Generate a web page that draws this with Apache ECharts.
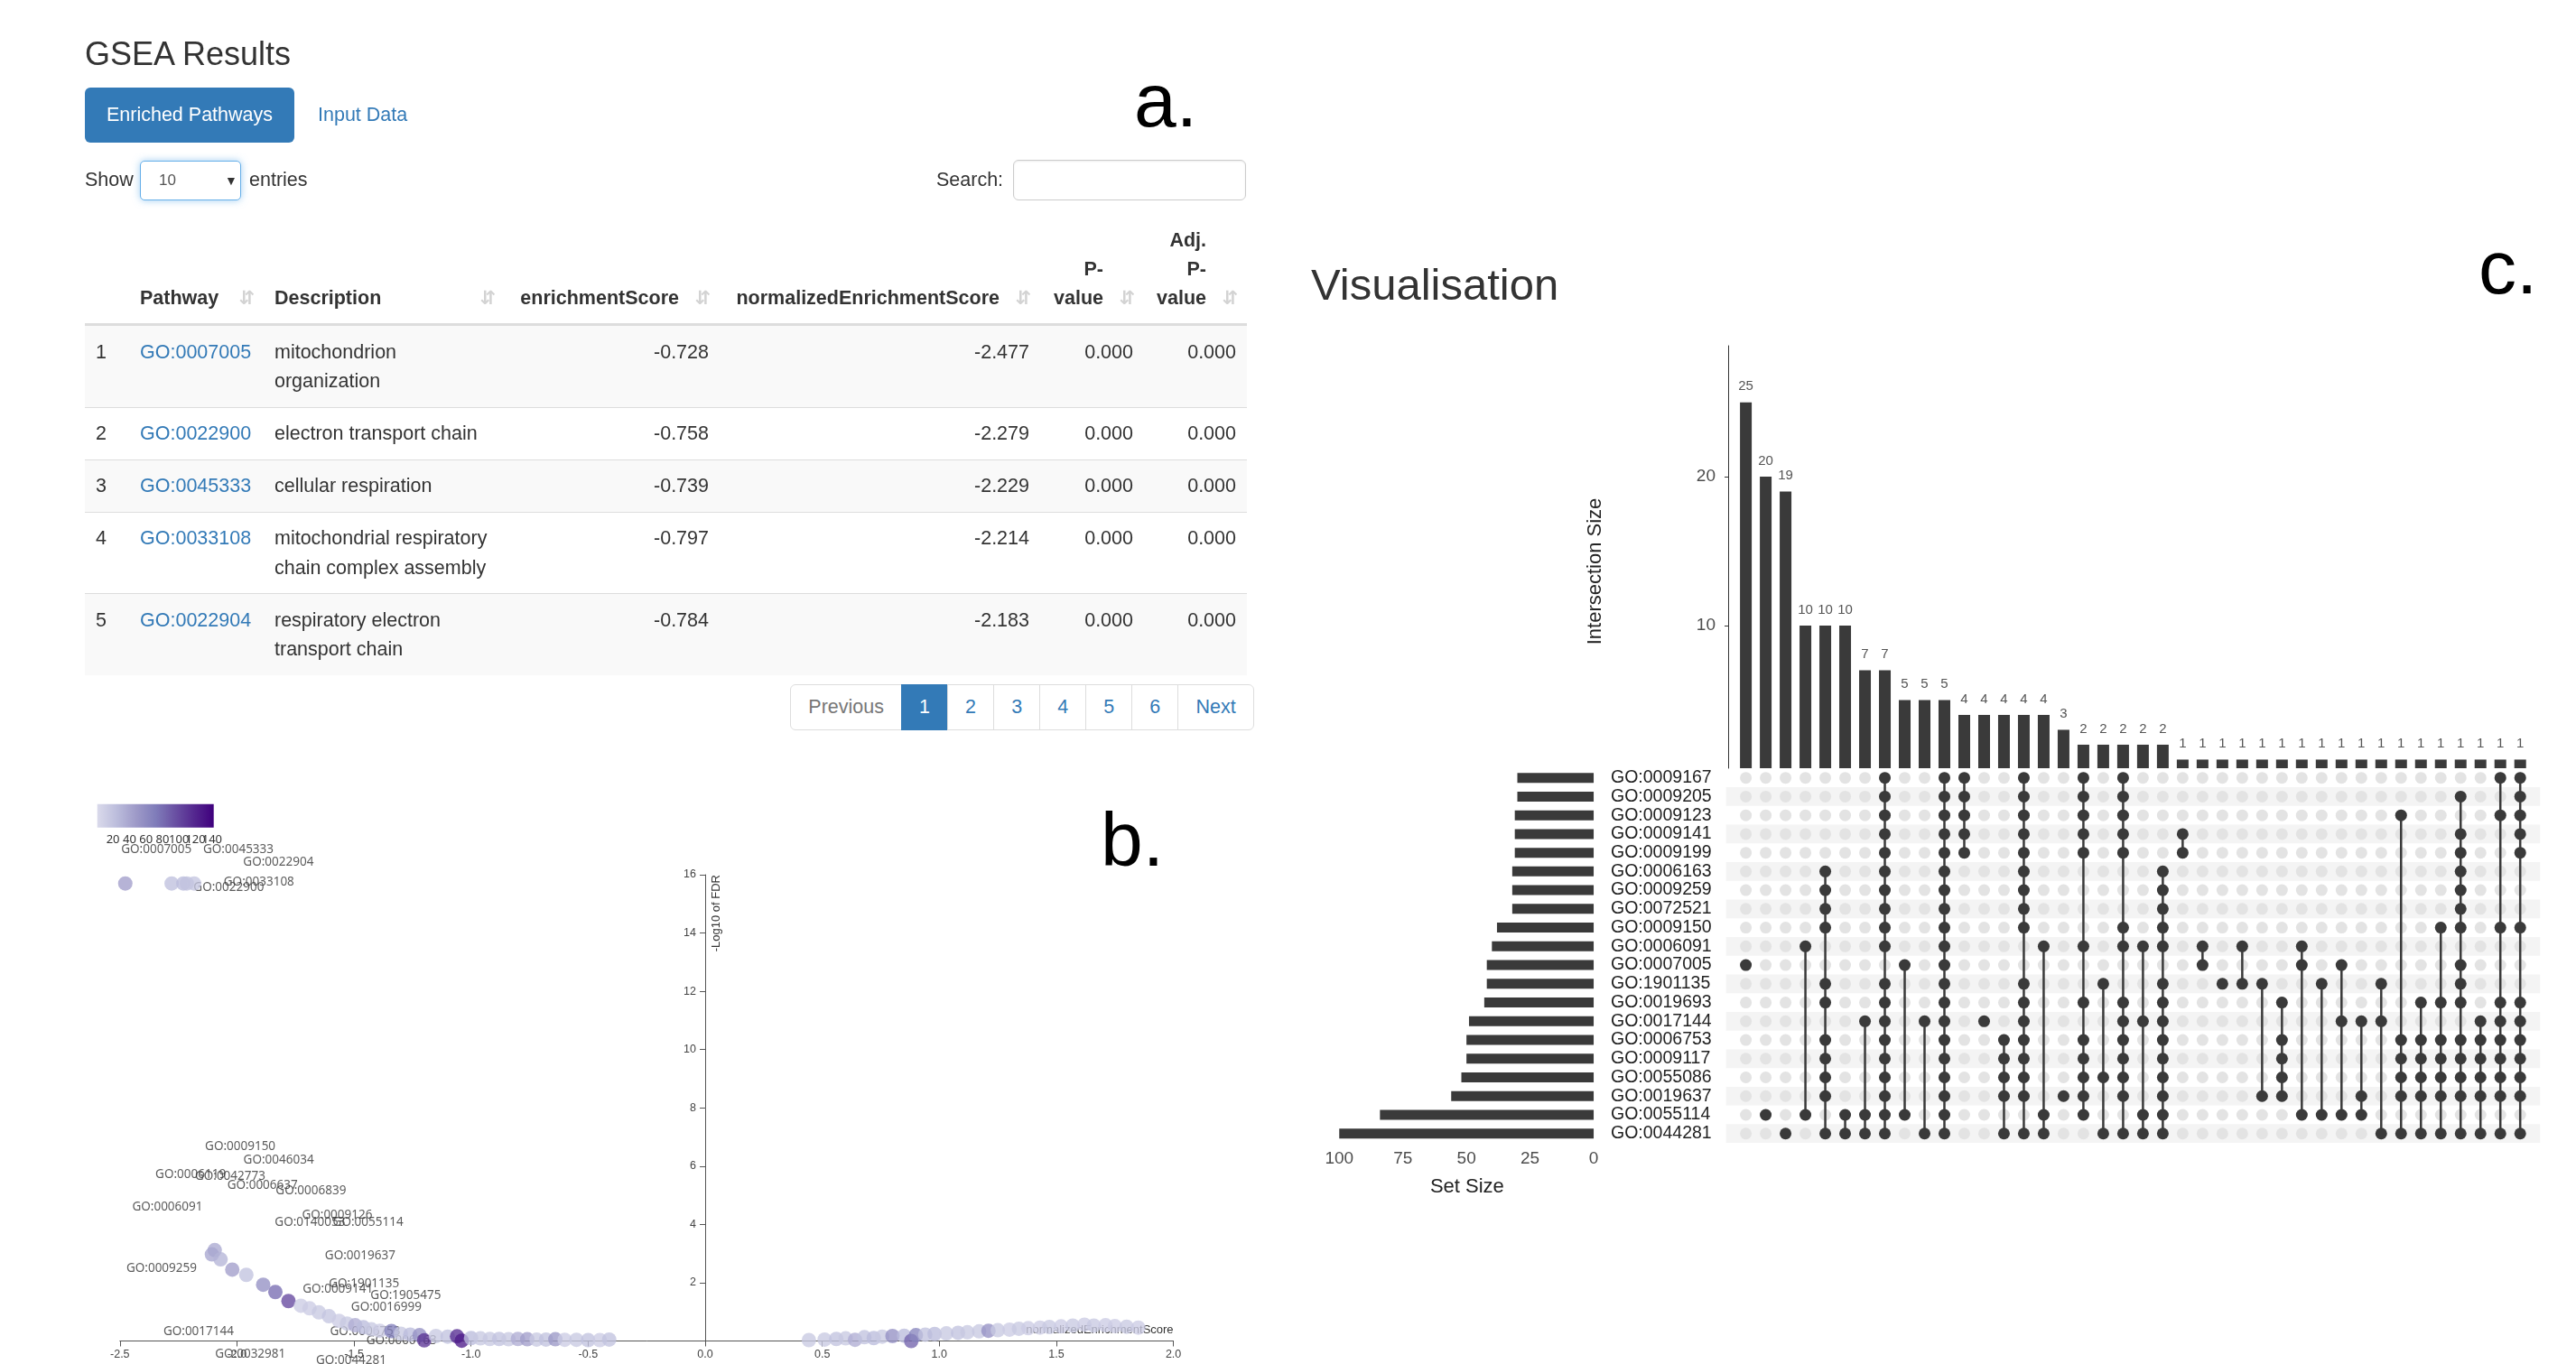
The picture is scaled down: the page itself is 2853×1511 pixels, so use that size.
<!DOCTYPE html>
<html><head><meta charset="utf-8">
<script src="https://cdn.jsdelivr.net/npm/echarts@6/dist/echarts.min.js"></script>
<style>
html,body{margin:0;padding:0;background:#fff;width:2853px;height:1511px;overflow:hidden;font-family:"Liberation Sans",Arial,sans-serif;color:#333}
#chart{position:absolute;left:0;top:0;width:2853px;height:1511px}
.abs{position:absolute;white-space:nowrap}
.t{font-size:21.5px;line-height:31px}
.letter{font-size:84px;line-height:84px;color:#000}
table.dt{position:absolute;left:94px;top:237.5px;width:1287px;border-collapse:collapse;table-layout:fixed;font-size:21.5px;line-height:32.2px;color:#333}
table.dt th{font-weight:bold;vertical-align:bottom;border-bottom:3px solid #ddd;padding:12px 45px 12px 12px;position:relative;text-align:left}
table.dt th.r{text-align:right}
table.dt th.n{padding-right:12px}
table.dt td{vertical-align:top;padding:12.5px 12px;border-top:1.5px solid #ddd}
table.dt tr:first-child td{border-top:none}
table.dt tbody tr:nth-child(odd){background:#f9f9f9}
table.dt td.r{text-align:right}
table.dt a{color:#337ab7;text-decoration:none}
.sort{position:absolute;right:10px;bottom:12px;color:#d3d3d3;font-family:"DejaVu Sans";font-size:21px;line-height:31px}
.pg{position:absolute;left:875px;top:758px;display:flex;font-size:21.5px;line-height:31px}
.pg div{padding:9px 19.3px;border:1.5px solid #ddd;margin-left:-1.5px;color:#337ab7;background:#fff}
.pg div.first{margin-left:0;border-radius:6px 0 0 6px;color:#777}
.pg div.last{border-radius:0 6px 6px 0}
.pg div.act{background:#337ab7;border-color:#337ab7;color:#fff}
</style></head><body>
<div id="chart"></div>

<div class="abs" style="left:94px;top:42px;font-size:36px;line-height:36px;color:#333">GSEA Results</div>
<div class="abs t" style="left:94px;top:97px;width:232px;height:61px;line-height:61px;background:#337ab7;border-radius:6px;color:#fff;text-align:center">Enriched Pathways</div>
<div class="abs t" style="left:352px;top:97px;line-height:61px;color:#337ab7">Input Data</div>
<div class="abs letter" style="left:1256px;top:69px">a.</div>
<div class="abs letter" style="left:1219px;top:888px">b.</div>
<div class="abs letter" style="left:2745px;top:254px">c.</div>
<div class="abs" style="left:1452px;top:291px;font-size:49px;line-height:49px;color:#333">Visualisation</div>

<div class="abs t" style="left:94px;top:184px">Show</div>
<div class="abs" style="left:155px;top:178px;width:110px;height:42px;border:1.5px solid #66afe9;border-radius:5px;box-shadow:0 0 8px rgba(102,175,233,.6);background:#fff">
  <span class="abs" style="left:20px;top:11px;font-size:17px;line-height:20px;color:#555">10</span>
  <span class="abs" style="left:93px;top:11px;font-size:14px;line-height:20px;color:#333">&#9660;</span>
</div>
<div class="abs t" style="left:276px;top:184px">entries</div>
<div class="abs t" style="left:1037px;top:184px">Search:</div>
<div class="abs" style="left:1122px;top:177px;width:256px;height:43px;border:1.5px solid #ccc;border-radius:6px;box-shadow:inset 0 1px 2px rgba(0,0,0,.08)"></div>

<table class="dt" id="tbl">
<colgroup><col style="width:49px"><col style="width:149px"><col style="width:267px"><col style="width:238px"><col style="width:355px"><col style="width:115px"><col style="width:114px"></colgroup>
<thead><tr>
<th class="n"></th>
<th>Pathway<span class="sort">&#8693;</span></th>
<th>Description<span class="sort">&#8693;</span></th>
<th class="r">enrichmentScore<span class="sort">&#8693;</span></th>
<th class="r">normalizedEnrichmentScore<span class="sort">&#8693;</span></th>
<th class="r">P-<br>value<span class="sort">&#8693;</span></th>
<th class="r">Adj.<br>P-<br>value<span class="sort">&#8693;</span></th>
</tr></thead>
<tbody id="tbody"></tbody>
</table>

<div class="pg">
<div class="first">Previous</div><div class="act">1</div><div>2</div><div>3</div><div>4</div><div>5</div><div>6</div><div class="last">Next</div>
</div>

<script>
// ---------- Table data (panel a) ----------
const pathwayIds = ['GO:0007005','GO:0022900','GO:0045333','GO:0033108','GO:0022904'];
const pathwayDescriptions = ['mitochondrion organization','electron transport chain','cellular respiration','mitochondrial respiratory chain complex assembly','respiratory electron transport chain'];
const enrichmentScores = [-0.728,-0.758,-0.739,-0.797,-0.784];
const normalizedEnrichmentScores = [-2.477,-2.279,-2.229,-2.214,-2.183];
const pValues = [0,0,0,0,0];
const adjPValues = [0,0,0,0,0];

// ---------- Volcano data (panel b) ----------
const volcanoNES = [-2.477,-2.279,-2.229,-2.214,-2.183,
 -2.095,-2.107,-2.07,-2.02,-1.96,-1.888,-1.836,-1.78,-1.727,-1.69,-1.65,-1.607,-1.564,-1.53,-1.495,-1.46,-1.426,-1.39,-1.34,-1.30,-1.26,-1.22,-1.20,-1.15,-1.10,-1.06,-1.04,-1.00,-0.96,-0.92,-0.88,-0.84,-0.80,-0.76,-0.72,-0.68,-0.64,-0.60,-0.55,-0.50,-0.45,-0.41,
 0.443,0.51,0.56,0.60,0.64,0.68,0.72,0.756,0.80,0.85,0.88,0.90,0.94,0.98,1.03,1.08,1.12,1.17,1.21,1.25,1.30,1.34,1.38,1.43,1.47,1.52,1.57,1.62,1.66,1.71,1.75,1.80,1.85,1.97];
const volcanoLogFDR = [15.70,15.70,15.70,15.70,15.70,
 3.12,2.97,2.80,2.45,2.27,1.93,1.68,1.37,1.21,1.12,0.98,0.85,0.69,0.60,0.54,0.47,0.40,0.35,0.34,0.25,0.22,0.20,0.02,0.17,0.15,0.16,0.01,0.10,0.09,0.07,0.07,0.06,0.07,0.06,0.05,0.05,0.06,0.04,0.04,0.03,0.03,0.05,
 0.03,0.05,0.07,0.09,0.04,0.13,0.10,0.15,0.17,0.18,0.00,0.20,0.22,0.24,0.26,0.28,0.30,0.33,0.35,0.37,0.39,0.42,0.44,0.46,0.48,0.50,0.53,0.56,0.53,0.54,0.51,0.49,0.46,0.45];
const volcanoSetSize = [45,22,25,20,18,
 38,40,30,45,20,55,80,100,12,12,15,18,12,15,35,25,15,12,70,15,25,55,110,15,20,115,125,25,15,15,20,15,35,45,15,20,50,12,15,20,12,20,
 15,15,20,15,35,20,25,15,55,25,85,65,20,25,15,20,15,15,55,15,12,15,12,12,15,12,15,12,15,12,12,15,12];
const labelIds = ['GO:0007005','GO:0045333','GO:0022904','GO:0033108','GO:0022900','GO:0009150','GO:0046034','GO:0006119','GO:0042773','GO:0006637','GO:0006839','GO:0006091','GO:0009126','GO:0140053','GO:0055114','GO:0019637','GO:0009259','GO:1901135','GO:0009141','GO:1905475','GO:0016999','GO:0017144','GO:0006753','GO:0006163','GO:0032981','GO:0044281'];
const labelNES = [-2.344,-1.994,-1.823,-1.906,-2.035,-1.986,-1.822,-2.198,-2.029,-1.891,-1.684,-2.297,-1.572,-1.688,-1.440,-1.474,-2.322,-1.457,-1.569,-1.279,-1.362,-2.164,-1.452,-1.297,-1.943,-1.512];
const labelLogFDR = [16.85,16.87,16.43,15.74,15.56,6.67,6.20,5.71,5.66,5.35,5.16,4.60,4.31,4.07,4.07,2.92,2.50,1.95,1.78,1.57,1.16,0.31,0.31,0.00,-0.44,-0.67];
const colorDomain = [1, 142];
const colorTicks = [20,40,60,80,100,120,140];

// ---------- UpSet data (panel c) ----------
const setNames = ['GO:0009167','GO:0009205','GO:0009123','GO:0009141','GO:0009199','GO:0006163','GO:0009259','GO:0072521','GO:0009150','GO:0006091','GO:0007005','GO:1901135','GO:0019693','GO:0017144','GO:0006753','GO:0009117','GO:0055086','GO:0019637','GO:0055114','GO:0044281'];
const setSizes = [30,30,31,31,31,32,32,32,38,40,42,42,43,49,50,50,52,56,84,100];
const setSizeTicks = [0,25,50,75,100];
const intersectionSizes = [25,20,19,10,10,10,7,7,5,5,5,4,4,4,4,4,3,2,2,2,2,2,1,1,1,1,1,1,1,1,1,1,1,1,1,1,1,1,1,1];
const intersectionTicks = [10,20];
const intersectionMembers = [
 [10],[18],[19],[9,18],[5,6,7,8,11,12,14,15,16,17,19],[18,19],[13,18,19],
 [0,1,2,3,4,5,6,7,8,9,11,12,13,14,15,16,17,18,19],[10,18],[13,19],
 [0,1,2,3,4,5,6,7,8,9,10,11,12,13,14,15,16,17,18,19],[0,1,2,3,4],[13],[14,15,16,17,19],
 [0,1,2,3,4,5,6,7,8,11,12,13,14,15,16,17,19],[9,18,19],[17],[0,1,2,3,4,9,12,14,15,16,17,18],
 [11,16,19],[0,1,2,3,4,8,9,12,13,14,15,16,17,19],[9,13,18,19],[5,6,7,8,9,11,12,13,14,15,16,17,18,19],
 [3,4],[9,10],[11],[9,11],[11,17],[12,14,15,16,17],[9,10,18],[11,18],[10,13,18],[13,17,18],[11,13,19],
 [2,14,15,16,17,19],[12,14,15,16,17,19],[8,12,14,15,16,17,19],[1,3,4,5,6,7,8,10,11,12,14,15,16,17,19],
 [13,14,15,16,17,19],[0,2,8,12,13,14,15,16,17,19],[0,1,2,3,4,8,12,13,14,15,16,17,19]
];

// ---------- build table ----------
const fmt3 = v => v.toFixed(3);
document.getElementById('tbody').innerHTML = pathwayIds.map((id, i) =>
  `<tr><td>${i+1}</td><td><a>${id}</a></td><td>${pathwayDescriptions[i]}</td><td class="r">${fmt3(enrichmentScores[i])}</td><td class="r">${fmt3(normalizedEnrichmentScores[i])}</td><td class="r">${fmt3(pValues[i])}</td><td class="r">${fmt3(adjPValues[i])}</td></tr>`).join('');

// ---------- chart ----------
const FONT = '"Liberation Sans", Arial, sans-serif';
const purples = ['#dadaeb','#bcbddc','#9e9ac8','#807dba','#6a51a3','#54278f','#3f007d'];
const chart = echarts.init(document.getElementById('chart'), null, {renderer:'canvas'});

const volcanoData = volcanoNES.map((x, i) => [x, volcanoLogFDR[i], volcanoSetSize[i]]);
const labelData = labelIds.map((n, i) => ({name: n, value: [labelNES[i], labelLogFDR[i]]}));
const nCols = intersectionSizes.length, nRows = setNames.length;
const greyDots = [];
for (let c = 0; c < nCols; c++) for (let r = 0; r < nRows; r++) greyDots.push([c, r]);
const darkDots = [];
intersectionMembers.forEach((m, c) => m.forEach(r => darkDots.push([c, r])));
const connectors = intersectionMembers.map((m, c) => [c, Math.min(...m), Math.max(...m)]).filter(d => d[1] !== d[2]);
const stripeRows = setNames.map((_, r) => r).filter(r => r % 2 === 1).map(r => [r]);
const DARK = '#3a3a3a';

// volcano layout: y axis sits at NES = 0 inside the plot
const VX = [-2.5, 2], VW = 1166.8;
const yAxisShift = (0 - VX[0]) / (VX[1] - VX[0]) * VW;
// colour-scale tick labels split over two label rows so none is dropped as overlapping
const colorTicksA = colorTicks.filter((_, i) => i % 2 === 0);
const colorTicksB = colorTicks.filter((_, i) => i % 2 === 1);
const legendLabel = {color: '#333', fontSize: 13, margin: 7, fontFamily: '"Noto Sans", sans-serif', showMinLabel: true, showMaxLabel: true, hideOverlap: false};

const option = {
  animation: false,
  grid: [
    {left: 132.8, top: 969, width: VW, height: 516.5},
    {left: 107.7, top: 890.7, width: 129, height: 26},
    {left: 1922.6, top: 383, width: 879.6, height: 468},
    {left: 1471.7, top: 851.3, width: 306.3, height: 414.8},
    {left: 1911.6, top: 851.3, width: 901.6, height: 414.8}
  ],
  xAxis: [
    {gridIndex: 0, type: 'value', min: VX[0], max: VX[1], interval: 0.5, splitLine: {show: false},
     axisLine: {lineStyle: {color: '#555'}}, axisTick: {length: 6, lineStyle: {color: '#555'}},
     axisLabel: {formatter: v => v.toFixed(1), color: '#444', fontSize: 12.5, margin: 9, fontFamily: FONT}},
    {gridIndex: 1, type: 'value', position: 'bottom', min: colorDomain[0], max: colorDomain[1], splitLine: {show: false},
     axisLine: {lineStyle: {color: '#444'}},
     axisTick: {length: 6, customValues: [colorDomain[0]].concat(colorTicks, [colorDomain[1]]), lineStyle: {color: '#444'}},
     axisLabel: Object.assign({customValues: colorTicksA}, legendLabel)},
    {gridIndex: 2, type: 'category', data: intersectionSizes.map((_, i) => 'I' + (i + 1)), show: false},
    {gridIndex: 3, type: 'value', inverse: true, min: -4.6, max: 104.1, splitLine: {show: false},
     axisLine: {lineStyle: {color: '#333'}},
     axisTick: {length: 6, customValues: setSizeTicks, lineStyle: {color: '#333'}},
     axisLabel: {customValues: setSizeTicks, color: '#4d4d4d', fontSize: 19, margin: 8, fontFamily: FONT},
     name: 'Set Size', nameLocation: 'middle', nameGap: 38,
     nameTextStyle: {fontSize: 22, color: '#222', fontFamily: FONT}},
    {gridIndex: 4, type: 'value', min: -1, max: nCols, show: false},
    {gridIndex: 1, type: 'value', position: 'bottom', offset: 0, min: colorDomain[0], max: colorDomain[1], splitLine: {show: false},
     axisLine: {show: false}, axisTick: {show: false},
     axisLabel: Object.assign({customValues: colorTicksB}, legendLabel)}
  ],
  yAxis: [
    {gridIndex: 0, type: 'value', min: 0, max: 16, interval: 2, offset: -yAxisShift, splitLine: {show: false},
     axisLine: {onZero: false, lineStyle: {color: '#555'}}, axisTick: {length: 6, lineStyle: {color: '#555'}},
     axisLabel: {formatter: v => v === 0 ? '' : String(v), color: '#444', fontSize: 12.5, margin: 10, fontFamily: FONT}},
    {gridIndex: 1, type: 'category', data: ['scale'], show: false},
    {gridIndex: 2, type: 'value', min: 0.42, max: 28.8, offset: 8.6, splitLine: {show: false},
     axisLine: {show: true, lineStyle: {color: '#333'}},
     axisTick: {show: true, length: 4, customValues: intersectionTicks, lineStyle: {color: '#333'}},
     axisLabel: {customValues: intersectionTicks, color: '#4d4d4d', fontSize: 19, margin: 14, fontFamily: FONT}},
    {gridIndex: 3, type: 'category', data: setNames, inverse: true, position: 'right',
     axisLine: {show: false}, axisTick: {show: false},
     axisLabel: {interval: 0, color: '#222', fontSize: 19.5, margin: 6, fontFamily: FONT}},
    {gridIndex: 4, type: 'value', min: -0.5, max: nRows - 0.5, inverse: true, show: false}
  ],
  visualMap: [{type: 'continuous', show: false, seriesIndex: 1, dimension: 2,
    min: colorDomain[0], max: colorDomain[1], inRange: {color: purples}}],
  series: [
    {type: 'scatter', xAxisIndex: 0, yAxisIndex: 0, z: 1, clip: false, silent: true,
     symbolSize: 1, itemStyle: {color: 'rgba(0,0,0,0)'},
     label: {show: true, position: 'inside', formatter: '{b}', color: '#333', fontSize: 13.5, fontFamily: '"Noto Sans", sans-serif'},
     data: labelData},
    {type: 'scatter', xAxisIndex: 0, yAxisIndex: 0, z: 3, clip: false, symbolSize: 16,
     itemStyle: {opacity: 0.78}, data: volcanoData},
    {type: 'bar', xAxisIndex: 1, yAxisIndex: 1, barWidth: '100%', silent: true,
     itemStyle: {color: new echarts.graphic.LinearGradient(0, 0, 1, 0, purples.map((c, i) => ({offset: i / (purples.length - 1), color: c})))},
     data: [colorDomain[1]]},
    {type: 'bar', xAxisIndex: 2, yAxisIndex: 2, barWidth: 13, itemStyle: {color: DARK},
     label: {show: true, position: 'top', distance: 10, color: '#555', fontSize: 15, fontFamily: FONT},
     data: intersectionSizes},
    {type: 'bar', xAxisIndex: 3, yAxisIndex: 3, barWidth: 11, itemStyle: {color: DARK}, data: setSizes},
    {type: 'custom', xAxisIndex: 4, yAxisIndex: 4, z: 1, silent: true, data: stripeRows,
     renderItem: (p, api) => {
       const r = api.value(0);
       const a = api.coord([-1, r - 0.5]), b = api.coord([nCols, r + 0.5]);
       return {type: 'rect', shape: {x: a[0], y: Math.min(a[1], b[1]), width: b[0] - a[0], height: Math.abs(b[1] - a[1])}, style: {fill: '#f4f4f4'}};
     }},
    {type: 'scatter', xAxisIndex: 4, yAxisIndex: 4, z: 2, silent: true, symbolSize: 13, itemStyle: {color: '#e3e3e3', opacity: 1}, data: greyDots},
    {type: 'custom', xAxisIndex: 4, yAxisIndex: 4, z: 3, silent: true, data: connectors,
     renderItem: (p, api) => {
       const a = api.coord([api.value(0), api.value(1)]), b = api.coord([api.value(0), api.value(2)]);
       return {type: 'line', shape: {x1: a[0], y1: a[1], x2: b[0], y2: b[1]}, style: {stroke: DARK, lineWidth: 2.5}};
     }},
    {type: 'scatter', xAxisIndex: 4, yAxisIndex: 4, z: 4, silent: true, symbolSize: 13, itemStyle: {color: DARK, opacity: 1}, data: darkDots}
  ]
};
chart.setOption(option);

// axis titles placed through the axes' own scales
const yTop = chart.convertToPixel({gridIndex: 0}, [0, 16]);
const xEnd = chart.convertToPixel({gridIndex: 0}, [2, 0]);
chart.setOption({graphic: [
  {type: 'text', x: yTop[0] + 12, y: yTop[1], rotation: Math.PI / 2,
   style: {text: '-Log10 of FDR', fill: '#333', font: '13px ' + FONT, align: 'right', textAlign: 'right', verticalAlign: 'middle', textVerticalAlign: 'middle'}},
  {type: 'text', x: xEnd[0], y: xEnd[1] - 6,
   style: {text: 'normalizedEnrichmentScore', fill: '#333', font: '13px ' + FONT, align: 'right', textAlign: 'right', verticalAlign: 'bottom', textVerticalAlign: 'bottom'}},
  {type: 'text', x: 1767, y: 633, rotation: Math.PI / 2,
   style: {text: 'Intersection Size', fill: '#222', font: '22px ' + FONT, align: 'center', textAlign: 'center', verticalAlign: 'middle', textVerticalAlign: 'middle'}}
]});
</script>
</body></html>
